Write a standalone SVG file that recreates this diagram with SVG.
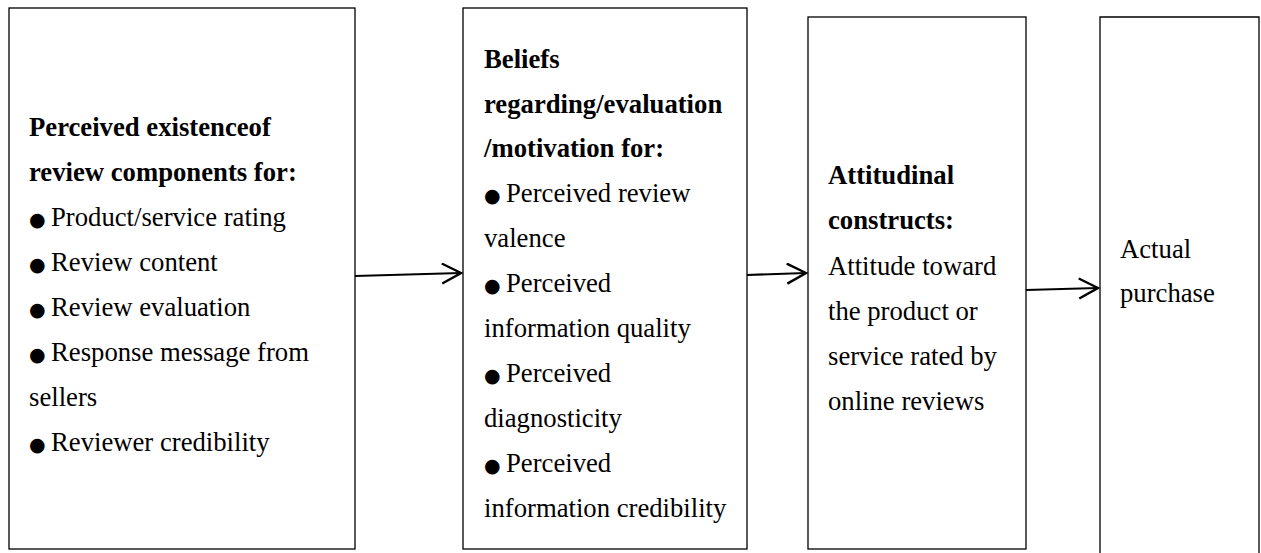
<svg xmlns="http://www.w3.org/2000/svg" width="1261" height="553" viewBox="0 0 1261 553">
  <style>
    .box { fill: #ffffff; stroke: #000000; stroke-width: 1.3; }
    .txt { font-family: "Liberation Serif", "Times New Roman", serif; font-size: 26.7px; fill: #000000; }
    .b { font-weight: bold; }
    .dot { font-family: "DejaVu Sans", sans-serif; font-size: 19px; }
    .conn { stroke: #000000; stroke-width: 2.2; fill: none; }
  </style>
  <defs>
    <marker id="arrow" markerUnits="userSpaceOnUse" markerWidth="24" markerHeight="26" refX="20" refY="11" orient="auto">
      <path d="M1,1 L20,11 L1,21" fill="none" stroke="#000000" stroke-width="2.4"/>
    </marker>
  </defs>

  <rect width="1261" height="553" fill="#ffffff"/>

  <!-- stage 1: perceived review components -->
  <g id="node-components">
    <rect class="box" x="9" y="8" width="346" height="541"/>
    <text class="txt b" x="29" y="136">Perceived existenceof</text>
    <text class="txt b" x="29" y="181">review components for:</text>
    <text class="txt" y="226"><tspan class="dot" x="29">●</tspan><tspan x="51">Product/service rating</tspan></text>
    <text class="txt" y="271"><tspan class="dot" x="29">●</tspan><tspan x="51">Review content</tspan></text>
    <text class="txt" y="316"><tspan class="dot" x="29">●</tspan><tspan x="51">Review evaluation</tspan></text>
    <text class="txt" y="361"><tspan class="dot" x="29">●</tspan><tspan x="51">Response message from</tspan></text>
    <text class="txt" x="29" y="406">sellers</text>
    <text class="txt" y="451"><tspan class="dot" x="29">●</tspan><tspan x="51">Reviewer credibility</tspan></text>
  </g>

  <!-- stage 2: beliefs / evaluation / motivation -->
  <g id="node-beliefs">
    <rect class="box" x="463" y="8" width="284" height="541"/>
    <text class="txt b" x="484" y="68">Beliefs</text>
    <text class="txt b" x="484" y="113">regarding/evaluation</text>
    <text class="txt b" x="484" y="157">/motivation for:</text>
    <text class="txt" y="202"><tspan class="dot" x="484">●</tspan><tspan x="506">Perceived review</tspan></text>
    <text class="txt" x="484" y="247">valence</text>
    <text class="txt" y="292"><tspan class="dot" x="484">●</tspan><tspan x="506">Perceived</tspan></text>
    <text class="txt" x="484" y="337">information quality</text>
    <text class="txt" y="382"><tspan class="dot" x="484">●</tspan><tspan x="506">Perceived</tspan></text>
    <text class="txt" x="484" y="427">diagnosticity</text>
    <text class="txt" y="472"><tspan class="dot" x="484">●</tspan><tspan x="506">Perceived</tspan></text>
    <text class="txt" x="484" y="517">information credibility</text>
  </g>

  <!-- stage 3: attitudinal constructs -->
  <g id="node-attitude">
    <rect class="box" x="808" y="17" width="218" height="532"/>
    <text class="txt b" x="828" y="184">Attitudinal</text>
    <text class="txt b" x="828" y="229">constructs:</text>
    <text class="txt" x="828" y="275">Attitude toward</text>
    <text class="txt" x="828" y="320">the product or</text>
    <text class="txt" x="828" y="365">service rated by</text>
    <text class="txt" x="828" y="410">online reviews</text>
  </g>

  <!-- stage 4: behaviour (box runs past the lower edge) -->
  <g id="node-purchase">
    <path class="box" d="M1100,556 L1100,17 L1259,17 L1259,556"/>
    <text class="txt" x="1120" y="258">Actual</text>
    <text class="txt" x="1120" y="302">purchase</text>
  </g>

  <g id="connectors">
    <path class="conn" d="M355,276 L461,273" marker-end="url(#arrow)"/>
    <path class="conn" d="M747,275 L806,273" marker-end="url(#arrow)"/>
    <path class="conn" d="M1026,290 L1098,288" marker-end="url(#arrow)"/>
  </g>
</svg>
